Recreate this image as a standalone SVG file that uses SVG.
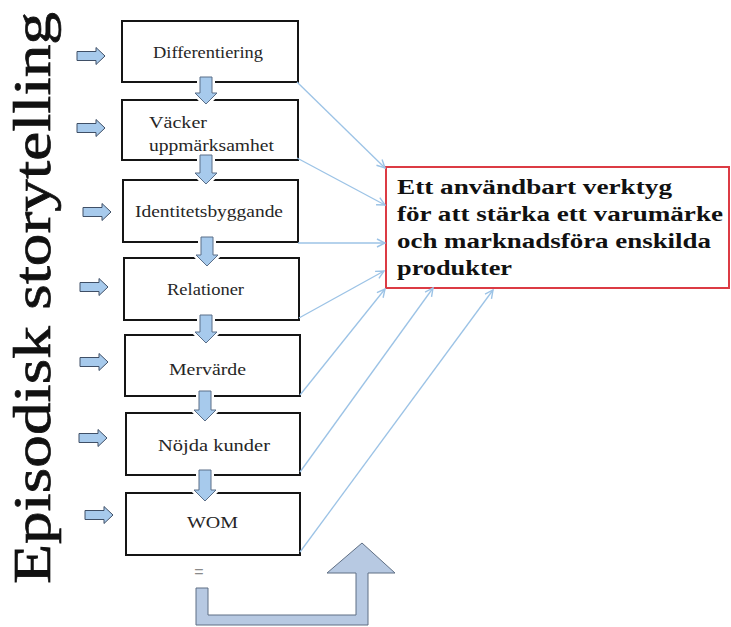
<svg xmlns="http://www.w3.org/2000/svg" width="731" height="627" viewBox="0 0 731 627">
<style>
.box{fill:#fff;stroke:#151515;stroke-width:2}
.lbl{font-family:"Liberation Serif","Times New Roman",serif;font-size:16px;fill:#262626}
.side{fill:#a7caec;stroke:#3f4f66;stroke-width:1}
.down{fill:#a7caec;stroke:#5a6e88;stroke-width:1}
.halo{fill:none;stroke:#fff;stroke-width:6;stroke-linejoin:round}
.conn{fill:none;stroke:#9cc3e6;stroke-width:1.3}
.goal{font-family:"Liberation Serif","Times New Roman",serif;font-size:20px;font-weight:bold;fill:#111}
.title{font-family:"Liberation Serif","Times New Roman",serif;font-size:52px;fill:#111;stroke:#111;stroke-width:0.7}
</style>
<defs>
<marker id="open" viewBox="0 0 10 10" refX="9" refY="5" markerWidth="10" markerHeight="10" markerUnits="userSpaceOnUse" orient="auto">
<path d="M1,1 L9,5 L1,9" fill="none" stroke="#9cc3e6" stroke-width="1.4"/>
</marker>
<path id="rarrow" d="M0,-4.5 L19,-4.5 L19,-8.5 L28,0 L19,8.5 L19,4.5 L0,4.5 Z"/>
</defs>

<rect width="731" height="627" fill="#fff"/>

<text class="title" transform="translate(50,584) rotate(-90)" textLength="572" lengthAdjust="spacingAndGlyphs">Episodisk storytelling</text>

<g id="n1"><rect class="box" x="122" y="21" width="176" height="61"/><text class="lbl" x="153" y="58" textLength="110" lengthAdjust="spacingAndGlyphs">Differentiering</text></g>
<g id="n2"><rect class="box" x="122" y="100" width="176" height="60"/><text class="lbl" x="149" y="128" textLength="58" lengthAdjust="spacingAndGlyphs">Väcker</text><text class="lbl" x="149" y="151" textLength="125" lengthAdjust="spacingAndGlyphs">uppmärksamhet</text></g>
<g id="n3"><rect class="box" x="123" y="180" width="175" height="62"/><text class="lbl" x="135" y="217" textLength="148" lengthAdjust="spacingAndGlyphs">Identitetsbyggande</text></g>
<g id="n4"><rect class="box" x="124" y="258" width="175" height="62"/><text class="lbl" x="167" y="295" textLength="77" lengthAdjust="spacingAndGlyphs">Relationer</text></g>
<g id="n5"><rect class="box" x="125" y="335" width="175" height="61"/><text class="lbl" x="169" y="375" textLength="77" lengthAdjust="spacingAndGlyphs">Mervärde</text></g>
<g id="n6"><rect class="box" x="126" y="413" width="174" height="62"/><text class="lbl" x="158" y="451" textLength="112" lengthAdjust="spacingAndGlyphs">Nöjda kunder</text></g>
<g id="n7"><rect class="box" x="126" y="493" width="174" height="62"/><text class="lbl" x="187" y="528" textLength="51" lengthAdjust="spacingAndGlyphs">WOM</text></g>

<g id="goal">
<rect x="386" y="167" width="343" height="121" fill="#fff" stroke="#dc3b44" stroke-width="2"/>
<text class="goal" x="397" y="194" textLength="275" lengthAdjust="spacingAndGlyphs">Ett användbart verktyg</text>
<text class="goal" x="397" y="221" textLength="326" lengthAdjust="spacingAndGlyphs">för att stärka ett varumärke</text>
<text class="goal" x="397" y="248" textLength="314" lengthAdjust="spacingAndGlyphs">och marknadsföra enskilda</text>
<text class="goal" x="397" y="275" textLength="115" lengthAdjust="spacingAndGlyphs">produkter</text>
</g>

<g id="connectors">
<g id="down-arrows">
<path class="halo" d="M200,77 L212,77 L212,93 L217,93 L206,104 L195,93 L200,93 Z"/>
<path class="down" d="M200,77 L212,77 L212,93 L217,93 L206,104 L195,93 L200,93 Z"/>
<path class="halo" d="M200,155 L212,155 L212,173 L217,173 L206,184 L195,173 L200,173 Z"/>
<path class="down" d="M200,155 L212,155 L212,173 L217,173 L206,184 L195,173 L200,173 Z"/>
<path class="halo" d="M201,237 L213,237 L213,255 L218,255 L207,266 L196,255 L201,255 Z"/>
<path class="down" d="M201,237 L213,237 L213,255 L218,255 L207,266 L196,255 L201,255 Z"/>
<path class="halo" d="M200,315 L212,315 L212,332 L217,332 L206,343 L195,332 L200,332 Z"/>
<path class="down" d="M200,315 L212,315 L212,332 L217,332 L206,343 L195,332 L200,332 Z"/>
<path class="halo" d="M199,391 L211,391 L211,410 L216,410 L205,421 L194,410 L199,410 Z"/>
<path class="down" d="M199,391 L211,391 L211,410 L216,410 L205,421 L194,410 L199,410 Z"/>
<path class="halo" d="M199,470 L211,470 L211,490 L216,490 L205,501 L194,490 L199,490 Z"/>
<path class="down" d="M199,470 L211,470 L211,490 L216,490 L205,501 L194,490 L199,490 Z"/>
</g>
<g id="side-arrows">
<use href="#rarrow" class="side" transform="translate(77,56)"/>
<use href="#rarrow" class="side" transform="translate(77,128)"/>
<use href="#rarrow" class="side" transform="translate(83,212)"/>
<use href="#rarrow" class="side" transform="translate(80,287)"/>
<use href="#rarrow" class="side" transform="translate(80,362)"/>
<use href="#rarrow" class="side" transform="translate(79,438)"/>
<use href="#rarrow" class="side" transform="translate(85,515)"/>
</g>
<g id="to-goal">
<line class="conn" x1="297" y1="82" x2="385" y2="168" marker-end="url(#open)"/>
<line class="conn" x1="297" y1="158" x2="385" y2="205" marker-end="url(#open)"/>
<line class="conn" x1="298" y1="243" x2="385" y2="243" marker-end="url(#open)"/>
<line class="conn" x1="299" y1="318" x2="384" y2="271" marker-end="url(#open)"/>
<line class="conn" x1="300" y1="395" x2="385" y2="289" marker-end="url(#open)"/>
<line class="conn" x1="300" y1="472" x2="433" y2="288" marker-end="url(#open)"/>
<line class="conn" x1="300" y1="552" x2="493" y2="290" marker-end="url(#open)"/>
</g>
<g id="return-arrow">
<path d="M196,588 L208,588 L208,615 L356,615 L356,573 L327,573 L362,543 L395,573 L368,573 L368,625 L196,625 Z" fill="#b7c9e2" stroke="#5f6f84" stroke-width="1"/>
</g>
</g>

<text x="199" y="577" text-anchor="middle" font-family="Liberation Sans,Arial,sans-serif" font-size="16" fill="#8a8a8a">=</text>
</svg>
